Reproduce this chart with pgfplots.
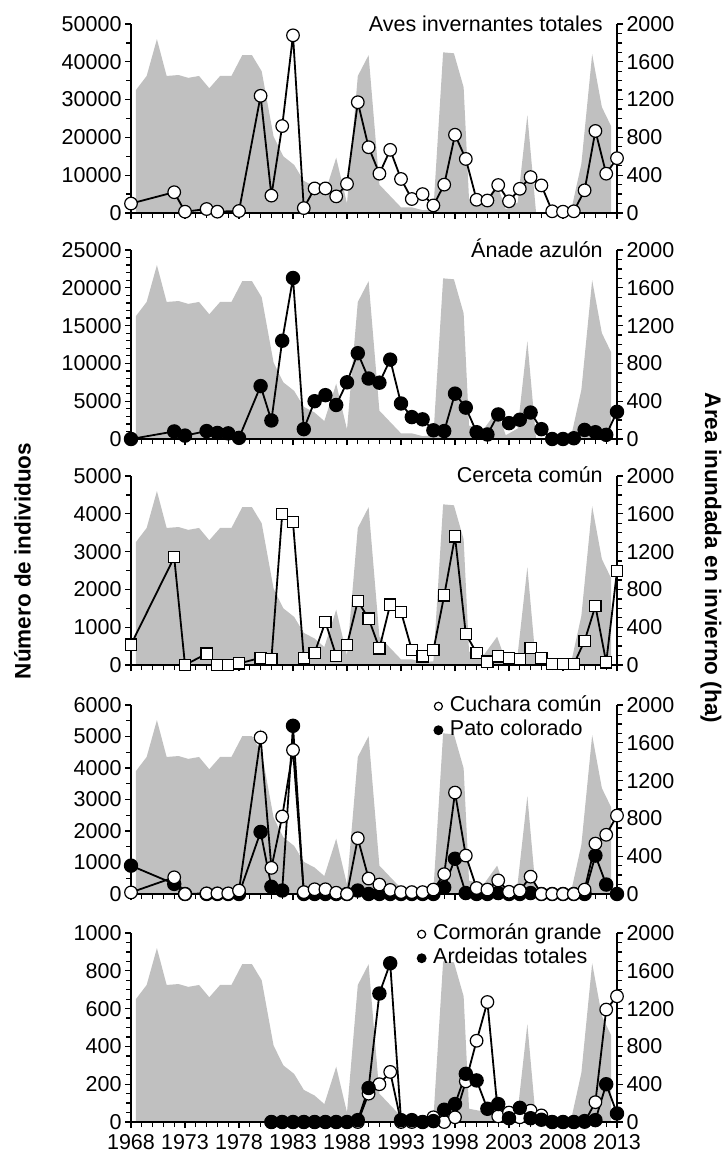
\documentclass[border=0pt]{standalone}
\usepackage{fontspec}
\setmainfont{Liberation Sans}
\usepackage{pgfplots}
\usepackage{pgfplotstable}
\pgfplotsset{compat=1.18}

\definecolor{flood}{RGB}{192,192,192}

% winter flooded area (ha), right axis, same in every panel
\pgfplotstableread{
yr area
1968.45 0
1968.45 1300
1969.45 1450
1970.4 1840
1971.3 1450
1972.4 1460
1973.3 1430
1974.3 1450
1975.25 1320
1976.25 1450
1977.3 1450
1978.3 1670
1979.2 1670
1980.1 1500
1981.2 810
1982.1 600
1983.1 510
1984.0 340
1985.0 280
1985.9 190
1987.0 585
1988.0 100
1989.0 1450
1990.0 1670
1991.0 300
1992.0 180
1993.0 60
1994.0 60
1995.0 30
1996.0 40
1996.9 1700
1997.9 1690
1998.8 1330
1999.3 140
2000.7 110
2001.9 300
2002.7 40
2003.8 110
2004.7 1035
2005.5 10
2006.5 0
2008.7 0
2009.7 520
2010.7 1680
2011.6 1120
2012.45 920
2012.45 0
}\floodtab

\tikzset{
  ptitle/.style={anchor=base east, inner sep=0pt, font=\fontsize{21.5}{24}\selectfont},
}

\pgfplotsset{
  base/.style={
    scale only axis, width=486pt, height=189pt,
    xmin=1968, xmax=2013,
    axis line style={line width=1.5pt},
    tick style={line width=1.3pt, black},
    major tick length=6pt, minor tick length=5pt,
    tick align=outside,
    /pgf/number format/assume math mode=true,
    /pgf/number format/1000 sep={},
    scaled y ticks=false,
    tick label style={font=\fontsize{21.5}{24}\selectfont},
  },
  floodax/.style={base, axis x line=none, axis y line*=right,
    ymin=0, ymax=2000, ytick={0,400,...,2000}, minor y tick num=3},
  dataax/.style={base, axis x line*=bottom, axis y line*=left,
    xtick={1968,1973,...,2013}, minor x tick num=4, clip=false,
    xticklabel style={yshift=-3pt}},
  opencirc/.style={black, line width=1.8pt, mark=*, mark size=6.3pt,
    mark options={fill=white, draw=black, line width=1.2pt}},
  fillcirc/.style={black, line width=1.8pt, mark=*, mark size=6.3pt,
    mark options={fill=black, draw=black}},
  opensq/.style={black, line width=1.8pt, mark=square*, mark size=5.6pt,
    mark options={fill=white, draw=black, line width=1.2pt}},
  panelleg/.style={
    legend style={at={(axis description cs:0.972,1.058)}, anchor=north east,
      draw=none, fill=none, inner sep=0pt,
      font=\fontsize{21.5}{24}\selectfont,
      nodes={inner sep=1.5pt, text height=16pt, text depth=5pt},
      /tikz/every odd column/.append style={column sep=6pt}},
    legend cell align=left,
    legend image code/.code={\draw[##1, mark size=4pt] plot coordinates {(0pt,0pt)};},
  },
}

\begin{document}
\begin{tikzpicture}
\path[use as bounding box] (0pt,0pt) rectangle (721pt,-1155pt);

% ---------- panel 1: Aves invernantes totales
\begin{axis}[floodax, at={(131pt,-24pt)}, anchor=north west]
\addplot[fill=flood, draw=none] table[x=yr, y=area] {\floodtab};
\end{axis}
\begin{axis}[dataax, at={(131pt,-24pt)}, anchor=north west,
  ymin=0, ymax=50000, ytick={0,10000,...,50000}, minor y tick num=1,
  xticklabels={}]
\addplot[opencirc] coordinates {
 (1968,2500)(1972,5500)(1973,350)(1975,1050)(1976,350)(1978,530)(1980,31000)
 (1981,4600)(1982,23000)(1983,47000)(1984,1300)(1985,6500)(1986,6500)(1987,4400)
 (1988,7700)(1989,29300)(1990,17400)(1991,10400)(1992,16700)(1993,9000)(1994,3700)
 (1995,5000)(1996,2000)(1997,7500)(1998,20700)(1999,14300)(2000,3500)(2001,3300)
 (2002,7400)(2003,3100)(2004,6400)(2005,9500)(2006,7300)(2007,450)(2008,350)
 (2009,450)(2010,6000)(2011,21700)(2012,10400)(2013,14500)};
\node[ptitle] at (rel axis cs:0.971,1) [yshift=-8pt] {Aves invernantes totales};
\end{axis}

% ---------- panel 2: Anade azulon
\begin{axis}[floodax, at={(131pt,-250pt)}, anchor=north west]
\addplot[fill=flood, draw=none] table[x=yr, y=area] {\floodtab};
\end{axis}
\begin{axis}[dataax, at={(131pt,-250pt)}, anchor=north west,
  ymin=0, ymax=25000, ytick={0,5000,...,25000}, minor y tick num=4,
  xticklabels={}]
\addplot[fillcirc] coordinates {
 (1968,0)(1972,1000)(1973,450)(1975,1050)(1976,800)(1977,750)(1978,150)(1980,7000)
 (1981,2450)(1982,13000)(1983,21300)(1984,1300)(1985,5000)(1986,5800)(1987,4500)
 (1988,7500)(1989,11350)(1990,8000)(1991,7450)(1992,10500)(1993,4700)(1994,2900)
 (1995,2600)(1996,1150)(1997,1050)(1998,6000)(1999,4150)(2000,900)(2001,600)
 (2002,3250)(2003,2100)(2004,2550)(2005,3500)(2006,1300)(2007,0)(2008,0)
 (2009,100)(2010,1200)(2011,900)(2012,550)(2013,3600)};
\node[ptitle] at (rel axis cs:0.971,1) [yshift=-8pt] {Ánade azulón};
\end{axis}

% ---------- panel 3: Cerceta comun
\begin{axis}[floodax, at={(131pt,-476pt)}, anchor=north west]
\addplot[fill=flood, draw=none] table[x=yr, y=area] {\floodtab};
\end{axis}
\begin{axis}[dataax, at={(131pt,-476pt)}, anchor=north west,
  ymin=0, ymax=5000, ytick={0,1000,...,5000}, minor y tick num=1,
  xticklabels={}]
\addplot[opensq] coordinates {
 (1968,540)(1972,2850)(1973,0)(1975,300)(1976,0)(1977,0)(1978,40)(1980,190)
 (1981,150)(1982,4000)(1983,3780)(1984,190)(1985,320)(1986,1140)(1987,240)
 (1988,530)(1989,1690)(1990,1230)(1991,440)(1992,1600)(1993,1410)(1994,400)
 (1995,230)(1996,390)(1997,1840)(1998,3400)(1999,820)(2000,320)(2001,90)
 (2002,230)(2003,180)(2004,160)(2005,450)(2006,180)(2007,20)(2008,20)
 (2009,20)(2010,640)(2011,1560)(2012,70)(2013,2480)};
\node[ptitle] at (rel axis cs:0.971,1) [yshift=-6pt] {Cerceta común};
\end{axis}

% ---------- panel 4: Cuchara comun / Pato colorado
\begin{axis}[floodax, at={(131pt,-705pt)}, anchor=north west]
\addplot[fill=flood, draw=none] table[x=yr, y=area] {\floodtab};
\end{axis}
\begin{axis}[dataax, panelleg, reverse legend, at={(131pt,-705pt)}, anchor=north west,
  ymin=0, ymax=6000, ytick={0,1000,...,6000}, minor y tick num=1,
  xticklabels={}]
\addplot[fillcirc] coordinates {
 (1968,900)(1972,320)(1973,0)(1975,0)(1976,0)(1977,0)(1978,0)(1980,1970)
 (1981,230)(1982,110)(1983,5340)(1984,0)(1985,0)(1986,0)(1987,0)(1988,0)
 (1989,110)(1990,0)(1991,0)(1992,0)(1993,0)(1994,0)(1995,0)(1996,0)(1997,210)
 (1998,1120)(1999,30)(2000,0)(2001,0)(2002,30)(2003,0)(2004,0)(2005,30)(2006,0)
 (2007,0)(2008,0)(2009,0)(2010,0)(2011,1220)(2012,300)(2013,0)};
\addlegendentry{Pato colorado}
\addplot[opencirc] coordinates {
 (1968,50)(1972,530)(1973,0)(1975,20)(1976,20)(1977,20)(1978,110)(1980,4970)
 (1981,830)(1982,2460)(1983,4570)(1984,60)(1985,150)(1986,150)(1987,40)(1988,0)
 (1989,1770)(1990,490)(1991,300)(1992,130)(1993,60)(1994,60)(1995,60)(1996,140)
 (1997,630)(1998,3220)(1999,1220)(2000,190)(2001,140)(2002,430)(2003,70)
 (2004,110)(2005,550)(2006,0)(2007,0)(2008,0)(2009,0)(2010,140)(2011,1600)
 (2012,1880)(2013,2490)};
\addlegendentry{Cuchara común}
\end{axis}

% ---------- panel 5: Cormoran grande / Ardeidas totales
\begin{axis}[floodax, at={(131pt,-933pt)}, anchor=north west]
\addplot[fill=flood, draw=none] table[x=yr, y=area] {\floodtab};
\end{axis}
\begin{axis}[dataax, panelleg, at={(131pt,-933pt)}, anchor=north west,
  ymin=0, ymax=1000, ytick={0,200,...,1000}, minor y tick num=3]
\addplot[opencirc] coordinates {
 (1981,0)(1982,0)(1983,0)(1984,0)(1985,0)(1986,0)(1987,0)(1988,0)(1989,0)
 (1990,150)(1991,200)(1992,265)(1993,0)(1994,0)(1995,0)(1996,25)(1997,0)
 (1998,25)(1999,215)(2000,430)(2001,635)(2002,30)(2003,50)(2004,25)(2005,60)
 (2006,35)(2007,0)(2008,0)(2009,0)(2010,0)(2011,105)(2012,595)(2013,665)};
\addlegendentry{Cormorán grande}
\addplot[fillcirc] coordinates {
 (1981,0)(1982,0)(1983,0)(1984,0)(1985,0)(1986,0)(1987,0)(1988,0)(1989,10)
 (1990,180)(1991,680)(1992,840)(1993,10)(1994,10)(1995,0)(1996,5)(1997,65)
 (1998,95)(1999,255)(2000,220)(2001,70)(2002,95)(2003,20)(2004,75)(2005,20)
 (2006,12)(2007,0)(2008,0)(2009,0)(2010,5)(2011,10)(2012,200)(2013,45)};
\addlegendentry{Ardeidas totales}
\end{axis}

% axis titles
\node[rotate=90, font=\bfseries\fontsize{22.5}{26}\selectfont] at (22.5pt,-561pt)
  {Número de individuos};
\node[rotate=-90, font=\bfseries\fontsize{22.5}{26}\selectfont] at (711pt,-558pt)
  {Area inundada en invierno (ha)};
\end{tikzpicture}
\end{document}
